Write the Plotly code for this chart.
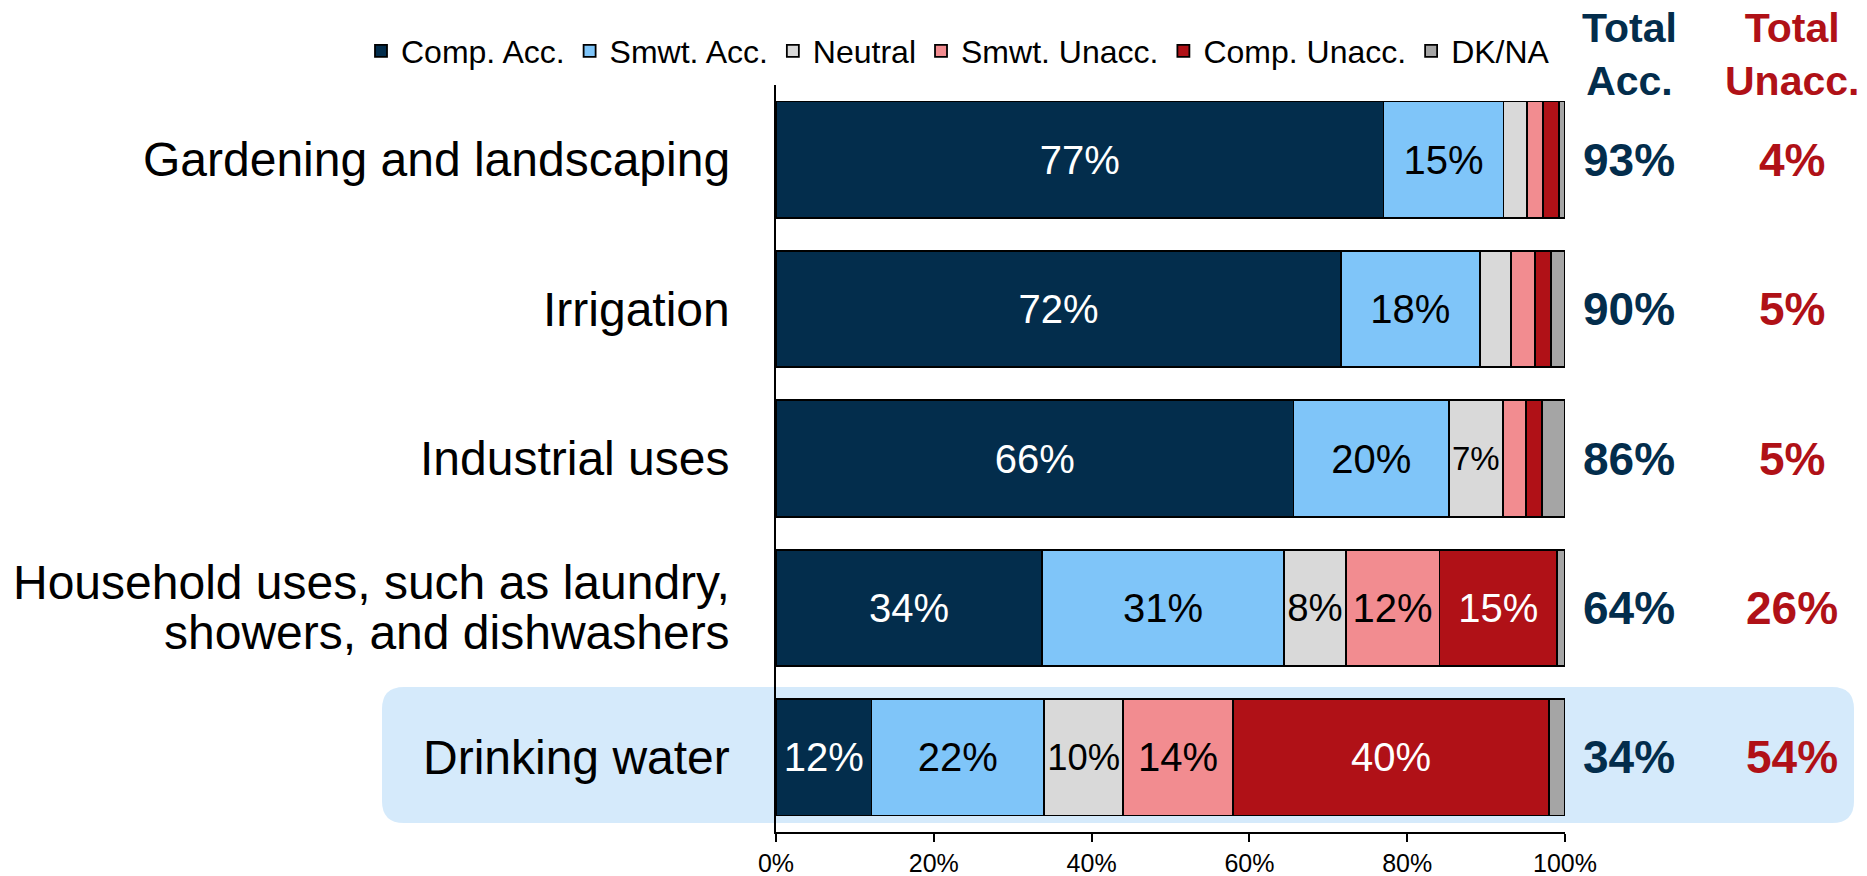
import plotly.graph_objects as go

W, H = 1867, 876

categories = [
    "Gardening and landscaping",
    "Irrigation",
    "Industrial uses",
    "Household uses, such as laundry,<br>showers, and dishwashers",
    "Drinking water",
]

# shares in percent, one list per response level
comp_acc = [77.0, 71.6, 65.6, 33.7, 12.1]
smwt_acc = [15.2, 17.6, 19.7, 30.7, 21.9]
neutral = [3.0, 4.0, 6.8, 7.8, 10.0]
smwt_unacc = [2.0, 3.0, 3.0, 11.9, 13.9]
comp_unacc = [2.0, 2.0, 2.0, 14.9, 40.1]
dk_na = [0.8, 1.8, 2.9, 1.0, 2.0]

total_acc = ["93%", "90%", "86%", "64%", "34%"]
total_unacc = ["4%", "5%", "5%", "26%", "54%"]

x_ticks = [0, 20, 40, 60, 80, 100]

NAVY = "#032D4C"
RED = "#B01117"
FONT = "Liberation Sans, Arial, sans-serif"

series = [
    ("Comp. Acc.", comp_acc, NAVY, "white"),
    ("Smwt. Acc.", smwt_acc, "#7FC5F9", "black"),
    ("Neutral", neutral, "#D9D9D9", "black"),
    ("Smwt. Unacc.", smwt_unacc, "#F28C90", "black"),
    ("Comp. Unacc.", comp_unacc, RED, "white"),
    ("DK/NA", dk_na, "#A5A5A5", "black"),
]

fig = go.Figure()

for name, vals, color, tcolor in series:
    fig.add_trace(go.Bar(
        y=categories,
        x=vals,
        orientation='h',
        name=name,
        marker=dict(color=color, line=dict(color='black', width=1.8)),
        width=0.78,
        text=[f"{round(v)}%" if v >= 6.5 else "" for v in vals],
        textposition='inside',
        insidetextanchor='middle',
        textangle=0,
        textfont=dict(size=40, color=tcolor, family=FONT),
        hoverinfo='skip',
    ))

# category labels (annotations so the wrapped one gets tighter line spacing)
for cat in categories:
    lines = cat.split("<br>")
    n = len(lines)
    for i, line in enumerate(lines):
        fig.add_annotation(x=732 / W, y=cat, xref='paper', yref='y', text=line,
                           xanchor='right', yanchor='middle', showarrow=False,
                           yshift=(n - 1) * 25 - i * 50,
                           font=dict(size=48, color='black', family=FONT))

# column headers
for xpix, label, color in [(1629, "Total<br>Acc.", NAVY), (1792, "Total<br>Unacc.", RED)]:
    fig.add_annotation(x=xpix / W, y=1 - 54 / H, xref='paper', yref='paper',
                       xanchor='center', yanchor='middle',
                       text=label, showarrow=False,
                       font=dict(size=41, color=color, family=FONT, weight='bold'))

# totals per row
for cat, a, u in zip(categories, total_acc, total_unacc):
    fig.add_annotation(x=1629 / W, y=cat, xref='paper', yref='y', text=a,
                       xanchor='center', yanchor='middle', showarrow=False,
                       font=dict(size=46, color=NAVY, family=FONT, weight='bold'))
    fig.add_annotation(x=1792 / W, y=cat, xref='paper', yref='y', text=u,
                       xanchor='center', yanchor='middle', showarrow=False,
                       font=dict(size=46, color=RED, family=FONT, weight='bold'))

# highlight box behind the last row (rounded corners)
x0, x1 = 382 / W, 1854 / W
y0, y1 = 1 - 823 / H, 1 - 687 / H
rx, ry = 22 / W, 22 / H
path = (f"M{x0+rx},{y1} L{x1-rx},{y1} Q{x1},{y1} {x1},{y1-ry} "
        f"L{x1},{y0+ry} Q{x1},{y0} {x1-rx},{y0} L{x0+rx},{y0} "
        f"Q{x0},{y0} {x0},{y0+ry} L{x0},{y1-ry} Q{x0},{y1} {x0+rx},{y1} Z")
fig.add_shape(type='path', path=path, xref='paper', yref='paper',
              fillcolor='#D5EAFB', line=dict(width=0), layer='below')

fig.update_layout(
    width=W, height=H,
    barmode='stack',
    margin=dict(l=0, r=0, t=0, b=0),
    paper_bgcolor='white',
    plot_bgcolor='rgba(0,0,0,0)',
    font=dict(family=FONT, color='black'),
    legend=dict(orientation='h', x=361 / W, xanchor='left', y=1 - 51 / H, yanchor='middle',
                font=dict(size=32, family=FONT), traceorder='normal',
                bgcolor='rgba(0,0,0,0)', itemclick=False),
    xaxis=dict(domain=[776 / W, 1565 / W], range=[0, 100], tickvals=x_ticks,
               ticktext=[f"{t}%" for t in x_ticks], automargin=False,
               showgrid=False, zeroline=False, showline=True,
               linecolor='black', linewidth=1.5, ticks='outside', ticklen=8,
               tickcolor='black', tickwidth=1.5, tickfont=dict(size=25, family=FONT)),
    yaxis=dict(domain=[1 - 832 / H, 1 - 85 / H], type='category', range=[4.5, -0.5],
               automargin=False, showgrid=False, zeroline=False, showline=True,
               linecolor='black', linewidth=1.5, ticks='', showticklabels=False),
)

# the page body has a default 8px margin; drop it so the figure sits at 0,0
fig.write_html("out.html", config={'displayModeBar': False},
               post_script="document.body.style.margin='0';")
